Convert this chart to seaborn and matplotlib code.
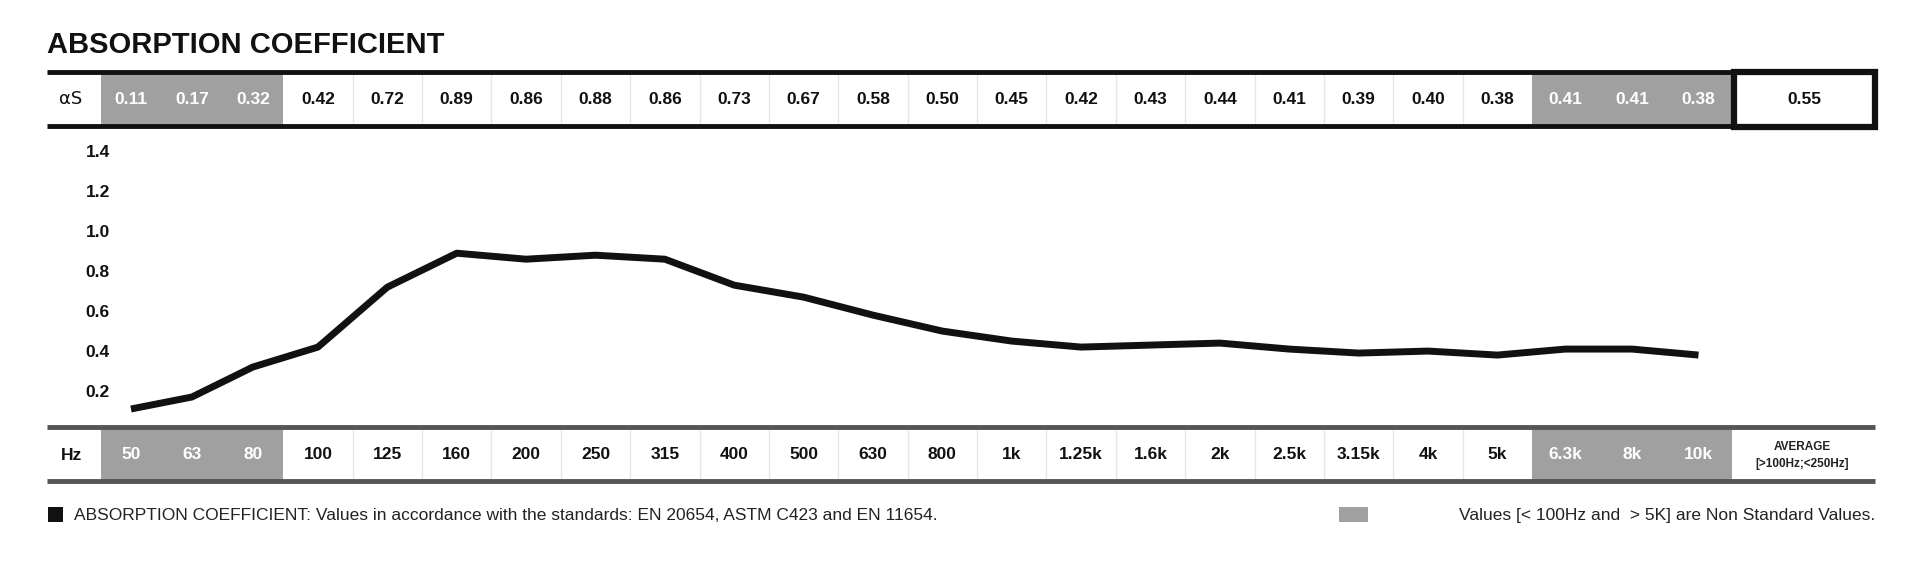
import matplotlib
matplotlib.use("Agg")
import matplotlib.pyplot as plt
import seaborn as sns
import numpy as np
from matplotlib.patches import Rectangle

sns.set_theme(style="white")
plt.rcParams['font.family'] = ['Liberation Sans Narrow', 'Liberation Sans', 'DejaVu Sans']

freqs = ["50","63","80","100","125","160","200","250","315","400","500","630","800",
         "1k","1.25k","1.6k","2k","2.5k","3.15k","4k","5k","6.3k","8k","10k"]
alpha = [0.11,0.17,0.32,0.42,0.72,0.89,0.86,0.88,0.86,0.73,0.67,0.58,0.50,
         0.45,0.42,0.43,0.44,0.41,0.39,0.40,0.38,0.41,0.41,0.38]
nonstandard = [True]*3 + [False]*18 + [True]*3
average = 0.55
yticks = [0.2,0.4,0.6,0.8,1.0,1.2,1.4]
title = "ABSORPTION COEFFICIENT"
foot_left = "ABSORPTION COEFFICIENT: Values in accordance with the standards: EN 20654, ASTM C423 and EN 11654."
foot_right = "Values [< 100Hz and  > 5K] are Non Standard Values."

W, H = 1568, 472
GRAY = "#a0a0a0"

# column layout (in reference pixel units)
widths = [49.7]*3 + [56.6]*18 + [54.3]*3
edges = 82 + np.concatenate([[0], np.cumsum(widths)])
centers = (edges[:-1] + edges[1:]) / 2

fig = plt.figure(figsize=(19.22, 5.78), dpi=100)
bg = fig.add_axes([0, 0, 1, 1])
bg.set_xlim(0, W); bg.set_ylim(H, 0); bg.axis("off")

bg.text(38, 37, title, fontsize=21, fontweight="bold", va="center", ha="left", color="#111")

def band(y0, y1, labels, head, topcol, lw):
    for i, lab in enumerate(labels):
        x0, x1 = edges[i], edges[i+1]
        if nonstandard[i]:
            bg.add_patch(Rectangle((x0, y0), x1-x0, y1-y0, color=GRAY, lw=0))
        elif i > 3 or (i == 3 and False):
            bg.plot([x0, x0], [y0, y1], color="#e6e6e6", lw=1)
        bg.text(centers[i], (y0+y1)/2, lab, ha="center", va="center", fontsize=12.5,
                fontweight="bold", color="white" if nonstandard[i] else "#111")
    bg.plot([38, 1530], [y0, y0], color=topcol, lw=lw, solid_capstyle="butt")
    bg.plot([38, 1530], [y1, y1], color=topcol, lw=lw, solid_capstyle="butt")

band(59, 103, [f"{v:.2f}" for v in alpha], "αS", "#111", 3.5)
bg.text(58, 81, "αS", ha="center", va="center", fontsize=13, color="#111", family="DejaVu Sans")
bg.add_patch(Rectangle((1414.5, 59), 115, 45, fill=False, ec="#111", lw=4.5))
bg.text(1472, 81, f"{average:.2f}", ha="center", va="center", fontsize=12.5, fontweight="bold", color="#111")

band(349, 393, freqs, "Hz", "#555", 3.5)
bg.text(58, 372, "Hz", ha="center", va="center", fontsize=12.5, fontweight="bold", color="#111")
bg.text(1470, 365, "AVERAGE", ha="center", va="center", fontsize=8.5, fontweight="bold", color="#222")
bg.text(1470, 379, "[>100Hz;<250Hz]", ha="center", va="center", fontsize=8.5, fontweight="bold", color="#222")

bg.add_patch(Rectangle((39, 414), 12, 12, color="#111", lw=0))
bg.text(60, 421, foot_left, ha="left", va="center", fontsize=12.5, color="#222")
bg.add_patch(Rectangle((1092, 414), 24, 12, color=GRAY, lw=0))
bg.text(1530, 421, foot_right, ha="right", va="center", fontsize=12.5, color="#222")

# plot area
ax = fig.add_axes([38/W, 1-349/H, (1530-38)/W, (349-104)/H])
ax.patch.set_alpha(0)
sns.lineplot(x=centers, y=alpha, ax=ax, color="#111", lw=5, solid_capstyle="butt")
ax.set_xlim(38, 1530)
ax.set_ylim(0.018, 1.52)
ax.set_yticks(yticks)
ax.set_yticklabels([f"{t:.1f}" for t in yticks], fontsize=12.5, fontweight="bold", color="#111")
ax.tick_params(axis="y", length=0, pad=-28)
for lab in ax.get_yticklabels():
    lab.set_horizontalalignment("left")
ax.set_xticks([])
for s in ax.spines.values():
    s.set_visible(False)
ax.grid(False)

fig.savefig("out.png", dpi=100)
